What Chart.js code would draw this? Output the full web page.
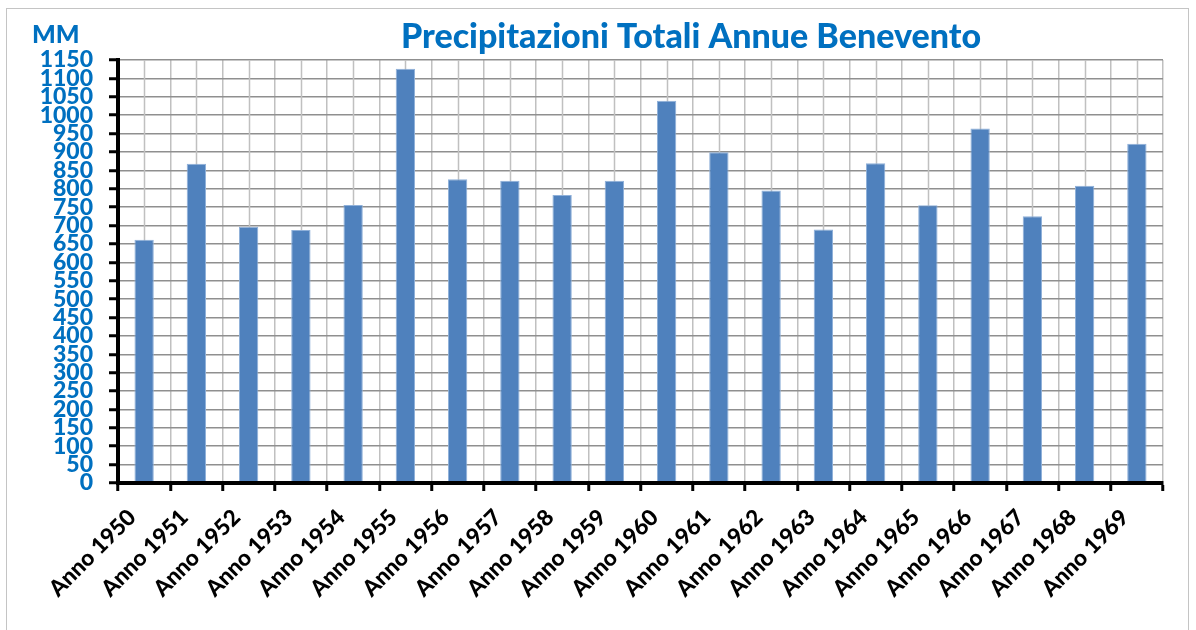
<!DOCTYPE html>
<html>
<head>
<meta charset="utf-8">
<script src="https://cdn.jsdelivr.net/npm/chart.js@4.4.1/dist/chart.umd.min.js"></script>
<style>
  html,body{margin:0;padding:0;background:#fff}
  #wrap{position:relative;width:1196px;height:630px;overflow:hidden}
  #frame{position:absolute;left:6px;top:8px;width:1183px;height:640px;border:1.5px solid #c4c4c4;box-sizing:border-box}
  canvas{position:absolute;left:0;top:0}
</style>
</head>
<body>
<div id="wrap">
  <div id="frame"></div>
  <canvas id="rain" width="1196" height="630"></canvas>
</div>
<script>
/* ── Dati ── */
const TITLE  = 'Precipitazioni Totali Annue Benevento';
const UNIT   = 'MM';
const YEARS  = ['Anno 1950','Anno 1951','Anno 1952','Anno 1953','Anno 1954','Anno 1955','Anno 1956','Anno 1957','Anno 1958','Anno 1959',
                'Anno 1960','Anno 1961','Anno 1962','Anno 1963','Anno 1964','Anno 1965','Anno 1966','Anno 1967','Anno 1968','Anno 1969'];
const RAIN   = [661, 868, 697, 688, 756, 1126, 826, 822, 783, 822,
                1039, 899, 795, 689, 869, 755, 964, 725, 808, 922];
const Y_MIN = 0, Y_MAX = 1150, Y_STEP = 50;

const BLUE = '#0070C0';
const FONT = 'Lato, "Open Sans", sans-serif';

/* ── Plugin: titolo, unità e griglia verticale centrale ── */
const decor = {
  id:'decor',
  beforeDatasetsDraw(chart){
    const {ctx, chartArea:a, scales:{x}} = chart;
    ctx.save();
    ctx.strokeStyle = '#c0c0c0';
    ctx.lineWidth = 1.5;
    YEARS.forEach((_,i)=>{
      const px = Math.round(x.getPixelForValue(i)) + 0.5;
      ctx.beginPath(); ctx.moveTo(px, a.top); ctx.lineTo(px, a.bottom); ctx.stroke();
    });
    ctx.restore();
  },
  afterDraw(chart){
    const ctx = chart.ctx;
    ctx.save();
    ctx.fillStyle = BLUE;
    ctx.textBaseline = 'middle';
    ctx.font = '900 34px ' + FONT;
    ctx.textAlign = 'center';
    ctx.fillText(TITLE, 691, 37);
    ctx.font = '900 25px ' + FONT;
    ctx.textAlign = 'left';
    ctx.fillText(UNIT, 32, 35);
    ctx.restore();
  }
};

new Chart(document.getElementById('rain'), {
  type:'bar',
  data:{
    labels: YEARS,
    datasets:[{
      data: RAIN,
      backgroundColor:'#4F81BD',
      borderColor:'#8fb0d9',
      borderWidth:{top:1, left:1, right:1, bottom:0},
      barPercentage:0.74,
      categoryPercentage:0.5
    }]
  },
  options:{
    responsive:false,
    animation:false,
    layout:{ padding:{ left:0, right:33, top:60, bottom:0 } },
    plugins:{ legend:{ display:false }, title:{ display:false }, tooltip:{ enabled:false } },
    scales:{
      x:{
        afterFit(s){ s.height = 147; },
        grid:{ color:'#c0c0c0', lineWidth:1.5, offset:true, tickColor:'#000', tickLength:8, tickWidth:3 },
        border:{ color:'#000', width:4, z:1 },
        ticks:{ color:'#000', font:{ family:FONT, size:22.5, weight:'900' }, maxRotation:45, minRotation:45, padding:13, labelOffset:-12, autoSkip:false }
      },
      y:{
        min:Y_MIN, max:Y_MAX,
        afterFit(s){ s.width = 118; },
        grid:{ color:'#8f8f8f', lineWidth:1.5, tickColor:'#000', tickLength:9, tickWidth:3 },
        border:{ color:'#000', width:4, z:1 },
        ticks:{ stepSize:Y_STEP, autoSkip:false, callback:v=>String(v), color:BLUE, font:{ family:FONT, size:23, weight:'900', lineHeight:1 }, padding:16 }
      }
    }
  },
  plugins:[decor]
});
</script>
</body>
</html>
